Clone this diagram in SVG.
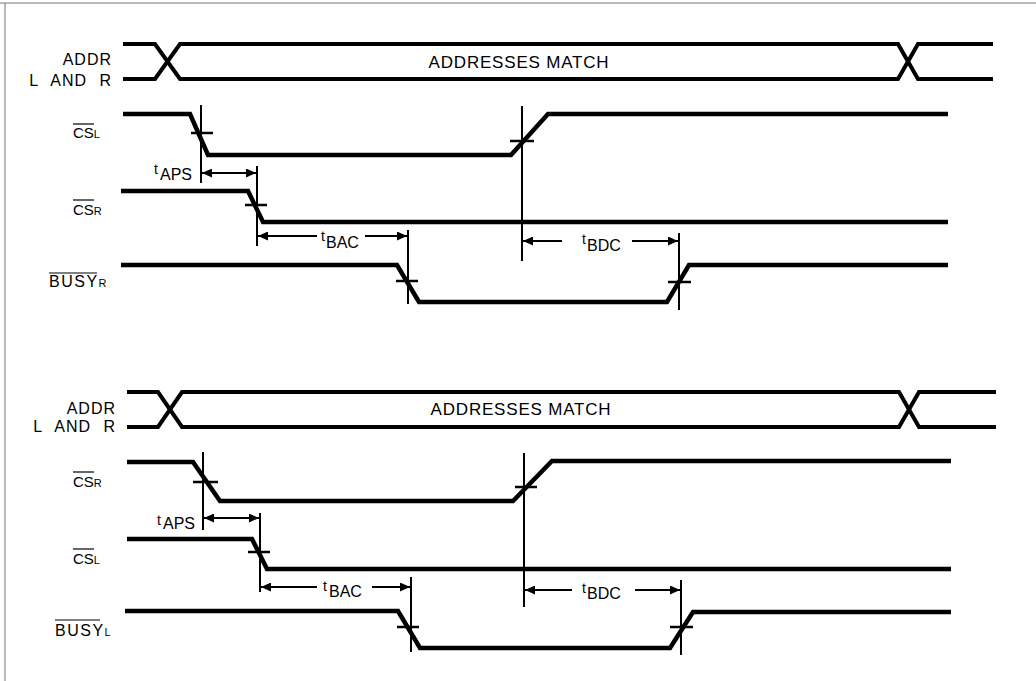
<svg xmlns="http://www.w3.org/2000/svg" width="1036" height="681" viewBox="0 0 1036 681">
<style>
.sig{fill:none;stroke:#000;stroke-width:4.5;stroke-linejoin:miter}
.addr{fill:none;stroke:#000;stroke-width:4}
.v{stroke:#000;stroke-width:2}
.tk{stroke:#000;stroke-width:2.5}
.ar{stroke:#000;stroke-width:2;fill:none}
.ol{stroke:#000;stroke-width:1.2}
text{font-family:"Liberation Sans",Arial,sans-serif;fill:#000}
.lb{font-size:16px;letter-spacing:1px}
.cs{font-size:15px}
.sub{font-size:11px}
.busy{font-size:16px;letter-spacing:1.5px}
.t{font-size:14px}
.tm{font-size:16px}
.am{font-size:17px;letter-spacing:0.8px}
</style>
<defs>
<marker id="ah" markerUnits="userSpaceOnUse" markerWidth="10" markerHeight="9" refX="10" refY="4.5" orient="auto-start-reverse">
<path d="M0,0 L10,4.5 L0,9 z" fill="#000"/>
</marker>
</defs>
<rect width="1036" height="681" fill="#fff"/>
<g id="frame">
<line x1="0" y1="3" x2="1036" y2="3" stroke="#777" stroke-width="1"/>
<line x1="5" y1="3" x2="5" y2="681" stroke="#777" stroke-width="1"/>
</g>

<!-- TOP DIAGRAM -->
<g id="top-addr">
<path class="addr" d="M123,44 H155 L180,79 H898 L918,44 H993"/>
<path class="addr" d="M123,79 H155 L180,44 H898 L918,79 H993"/>
<text class="lb" x="112" y="65" text-anchor="end">ADDR</text>
<text class="lb" x="112" y="86" text-anchor="end" word-spacing="7">L AND R</text>
<text class="am" x="519" y="68" text-anchor="middle">ADDRESSES MATCH</text>
</g>
<g id="top-csl">
<path class="sig" d="M123,114 H190 L208,155 H511 L548,114 H948"/>
<text x="73" y="138"><tspan class="cs">CS</tspan><tspan class="sub">L</tspan></text>
<line class="ol" x1="73" y1="124" x2="94" y2="124"/>
<line class="v" x1="201" y1="105" x2="201" y2="183"/>
<line class="tk" x1="191" y1="133" x2="213" y2="133"/>
<line class="v" x1="522" y1="106" x2="522" y2="261"/>
<line class="tk" x1="510" y1="141" x2="534" y2="141"/>
</g>
<g id="top-csr">
<path class="sig" d="M121,191 H248 L263,222 H948"/>
<text x="73" y="215"><tspan class="cs">CS</tspan><tspan class="sub">R</tspan></text>
<line class="ol" x1="73" y1="200" x2="94" y2="200"/>
<line class="v" x1="257" y1="166" x2="257" y2="246"/>
<line class="tk" x1="245" y1="205" x2="267" y2="205"/>
</g>
<g id="top-busyr">
<path class="sig" d="M121,265 H397 L419,302 H667 L689,265 H948"/>
<text x="49" y="287"><tspan class="busy">BUSY</tspan><tspan class="sub">R</tspan></text>
<line class="ol" x1="49" y1="273" x2="97" y2="273"/>
<line class="v" x1="408" y1="230" x2="408" y2="304"/>
<line class="tk" x1="396" y1="281" x2="418" y2="281"/>
<line class="v" x1="679" y1="233" x2="679" y2="310"/>
<line class="tk" x1="668" y1="282" x2="691" y2="282"/>
</g>

<!-- BOTTOM DIAGRAM -->
<g id="bot-addr">
<path class="addr" d="M127,392 H158 L182,427 H899 L919,392 H996"/>
<path class="addr" d="M127,427 H158 L182,392 H899 L919,427 H996"/>
<text class="lb" x="116" y="414" text-anchor="end">ADDR</text>
<text class="lb" x="116" y="432" text-anchor="end" word-spacing="7">L AND R</text>
<text class="am" x="521" y="415" text-anchor="middle">ADDRESSES MATCH</text>
</g>
<g id="bot-csr">
<path class="sig" d="M127,462 H193 L220,501 H513 L552,461 H951"/>
<text x="73" y="487"><tspan class="cs">CS</tspan><tspan class="sub">R</tspan></text>
<line class="ol" x1="73" y1="472" x2="94" y2="472"/>
<line class="v" x1="203" y1="452" x2="203" y2="530"/>
<line class="tk" x1="193" y1="482" x2="218" y2="482"/>
<line class="v" x1="524" y1="453" x2="524" y2="607"/>
<line class="tk" x1="515" y1="487" x2="537" y2="487"/>
</g>
<g id="bot-csl">
<path class="sig" d="M127,539 H252 L267,569 H951"/>
<text x="73" y="564"><tspan class="cs">CS</tspan><tspan class="sub">L</tspan></text>
<line class="ol" x1="73" y1="549" x2="94" y2="549"/>
<line class="v" x1="260" y1="513" x2="260" y2="592"/>
<line class="tk" x1="248" y1="552" x2="270" y2="552"/>
</g>
<g id="bot-busyl">
<path class="sig" d="M125,611 H398 L420,648 H670 L693,612 H951"/>
<text x="55" y="636"><tspan class="busy">BUSY</tspan><tspan class="sub">L</tspan></text>
<line class="ol" x1="55" y1="620" x2="100" y2="620"/>
<line class="v" x1="411" y1="577" x2="411" y2="652"/>
<line class="tk" x1="397" y1="627" x2="419" y2="627"/>
<line class="v" x1="681" y1="580" x2="681" y2="655"/>
<line class="tk" x1="670" y1="627" x2="693" y2="627"/>
</g>

<g id="connectors">
<line class="ar" x1="202" y1="173" x2="256" y2="173" marker-start="url(#ah)" marker-end="url(#ah)"/>
<text x="154" y="174" class="t">t</text>
<text x="160" y="180" class="tm">APS</text>
<line class="ar" x1="258" y1="236" x2="317" y2="236" marker-start="url(#ah)"/>
<line class="ar" x1="365" y1="236" x2="407" y2="236" marker-end="url(#ah)"/>
<text x="321" y="241" class="t">t</text>
<text x="326" y="248" class="tm">BAC</text>
<line class="ar" x1="523" y1="241" x2="562" y2="241" marker-start="url(#ah)"/>
<line class="ar" x1="632" y1="241" x2="678" y2="241" marker-end="url(#ah)"/>
<text x="582" y="244" class="t">t</text>
<text x="587" y="251" class="tm">BDC</text>

<line class="ar" x1="204" y1="518" x2="259" y2="518" marker-start="url(#ah)" marker-end="url(#ah)"/>
<text x="157" y="525" class="t">t</text>
<text x="163" y="529" class="tm">APS</text>
<line class="ar" x1="261" y1="587" x2="317" y2="587" marker-start="url(#ah)"/>
<line class="ar" x1="372" y1="587" x2="410" y2="587" marker-end="url(#ah)"/>
<text x="323" y="591" class="t">t</text>
<text x="329" y="597" class="tm">BAC</text>
<line class="ar" x1="525" y1="590" x2="572" y2="590" marker-start="url(#ah)"/>
<line class="ar" x1="635" y1="590" x2="680" y2="590" marker-end="url(#ah)"/>
<text x="582" y="593" class="t">t</text>
<text x="587" y="599" class="tm">BDC</text>
</g>
</svg>
